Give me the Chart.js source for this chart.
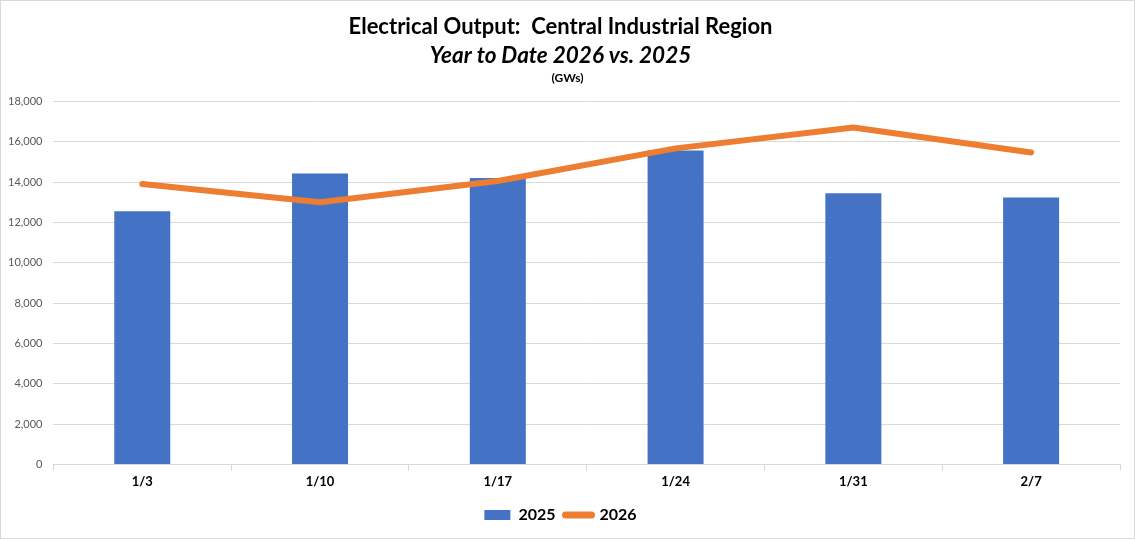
<!DOCTYPE html>
<html>
<head>
<meta charset="utf-8">
<script src="https://cdn.jsdelivr.net/npm/chart.js@4"></script>
<style>
  html, body { margin: 0; padding: 0; background: #fff; }
  #wrap { position: absolute; left: 0; top: 0; width: 1135px; height: 539px; box-sizing: border-box; border: 1px solid #d9d9d9; background: #fff; }
  canvas { display: block; }
</style>
</head>
<body>
<div id="wrap"><canvas id="c"></canvas></div>
<script>
const categories = ['1/3', '1/10', '1/17', '1/24', '1/31', '2/7'];
const values2025 = [12550, 14430, 14200, 15570, 13440, 13240];
const values2026 = [13900, 13000, 14050, 15670, 16710, 15470];
const titleLine1 = 'Electrical Output:  Central Industrial Region';
const titleLine2 = 'Year to Date 2026 vs. 2025';
const titleLine3 = '(GWs)';
const seriesNames = ['2025', '2026'];

const FONT = 'Lato, "Open Sans", sans-serif';

const unitsPlugin = {
  id: 'units',
  afterDraw(chart) {
    const ctx = chart.ctx;
    ctx.save();
    ctx.font = 'bold 12px ' + FONT;
    ctx.fillStyle = '#000';
    ctx.textAlign = 'center';
    ctx.textBaseline = 'middle';
    ctx.fillText(titleLine3, chart.width / 2, 77);
    ctx.restore();
  }
};

new Chart(document.getElementById('c'), {
  data: {
    labels: categories,
    datasets: [
      {
        type: 'line',
        label: seriesNames[1],
        data: values2026,
        borderColor: '#ED7D31',
        backgroundColor: '#ED7D31',
        borderWidth: 6,
        pointRadius: 0,
        pointHoverRadius: 0,
        tension: 0,
        borderCapStyle: 'round',
        borderJoinStyle: 'round',
        order: 1
      },
      {
        type: 'bar',
        label: seriesNames[0],
        data: values2025,
        backgroundColor: '#4472C4',
        borderWidth: 0,
        categoryPercentage: 1,
        barPercentage: 0.315,
        order: 2
      }
    ]
  },
  options: {
    responsive: true,
    maintainAspectRatio: false,
    animation: false,
    layout: { padding: { left: 0, right: 14, top: 7, bottom: 5 } },
    plugins: {
      title: {
        display: true,
        text: titleLine1,
        color: '#000',
        font: { family: FONT, size: 22, weight: 'bold' },
        padding: { top: 6, bottom: 2 }
      },
      subtitle: {
        display: true,
        text: titleLine2,
        color: '#000',
        font: { family: FONT, size: 22.5, weight: 'bold', style: 'italic' },
        padding: { top: 0, bottom: 32 }
      },
      legend: {
        position: 'bottom',
        labels: {
          color: '#000',
          font: { family: FONT, size: 16, weight: 'bold' },
          usePointStyle: true,
          pointStyleWidth: 26,
          boxHeight: 10,
          padding: 10,
          generateLabels(chart) {
            return [
              { text: seriesNames[0], fillStyle: '#4472C4', strokeStyle: '#4472C4', lineWidth: 0, pointStyle: 'rect', datasetIndex: 1, hidden: false, fontColor: '#000' },
              { text: seriesNames[1], fillStyle: '#ED7D31', strokeStyle: '#ED7D31', lineWidth: 7, lineCap: 'round', pointStyle: 'line', datasetIndex: 0, hidden: false, fontColor: '#000' }
            ];
          }
        }
      },
      tooltip: { enabled: false }
    },
    scales: {
      x: {
        offset: true,
        afterFit(scale) { scale.height += 3; },
        grid: { display: true, drawOnChartArea: false, drawTicks: true, tickLength: 6, color: '#d9d9d9', offset: true },
        border: { display: true, color: '#d9d9d9' },
        ticks: { color: '#000', font: { family: FONT, size: 13, weight: 'bold' }, padding: 4 }
      },
      y: {
        min: 0,
        max: 18000,
        afterFit(scale) { scale.width -= 4; },
        grid: { color: '#d9d9d9', drawTicks: false },
        border: { display: false },
        ticks: {
          stepSize: 2000,
          color: '#595959',
          padding: 11,
          font: { family: FONT, size: 11 },
          callback: v => v.toLocaleString('en-US')
        }
      }
    }
  },
  plugins: [unitsPlugin]
});
</script>
</body>
</html>
